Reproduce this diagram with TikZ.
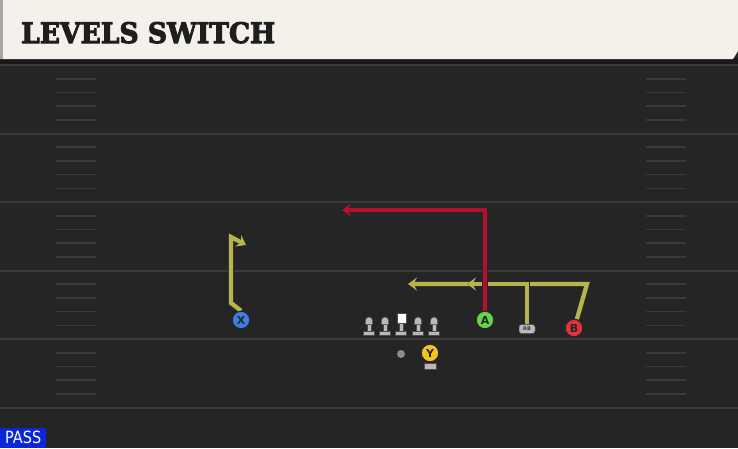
\documentclass[tikz,border=0pt]{standalone}
\usepackage{fontspec}
\setmainfont{DejaVu Serif}
\newfontfamily\titlefont[FakeBold=3.5,BoldFeatures={FakeBold=3.5}]{DejaVu Serif}
\newfontfamily\labelfont{DejaVu Sans}
\usetikzlibrary{arrows.meta}
\definecolor{fieldbg}{HTML}{252525}
\definecolor{yardline}{HTML}{3A3A3A}
\definecolor{cream}{HTML}{F4F1EA}
\definecolor{titleink}{HTML}{1E1E1E}
\definecolor{routered}{HTML}{B3102E}
\definecolor{routeyel}{HTML}{B7B34E}
\definecolor{pgreen}{HTML}{66D448}
\definecolor{pblue}{HTML}{3C7FE2}
\definecolor{pred}{HTML}{E2323E}
\definecolor{pyellow}{HTML}{F2C41E}
\definecolor{lgray}{HTML}{B9B9B9}
\definecolor{passblue}{HTML}{0B26D8}
\begin{document}
\begin{tikzpicture}[x=1pt,y=-1pt,
  hash/.style={draw=yardline,line width=1.6pt},
  yard/.style={draw=yardline,line width=2pt},
  player/.style={circle,minimum size=17.5pt,inner sep=0pt,draw=black!85,line width=1pt,
     font=\labelfont\bfseries\fontsize{11}{11}\selectfont,text=black!85},
  lineman/.style={fill=lgray,draw=black!70,line width=0.5pt},
  route/.style={line width=4.3pt,line join=miter,preaction={draw=black!85,line width=6.2pt}},
  tip/.style={-{Stealth[length=9pt,width=13pt,inset=3.5pt]}}]
\useasboundingbox (0,0) rectangle (738,448);
% field
\fill[fieldbg] (0,0) rectangle (738,448);
% yard lines
\foreach \y in {65,133.5,202,270.5,339,407.5}{
  \draw[yard] (0,\y) -- (738,\y);
}
\foreach \y in {65,133.5,202,270.5,339}{
  \foreach \k in {1,2,3,4}{
    \draw[hash] (56,\y+13.7*\k) -- (96,\y+13.7*\k);
    \draw[hash] (646,\y+13.7*\k) -- (686,\y+13.7*\k);
  }
}
% header
\fill[black!90] (0,58) rectangle (738,64);
\fill[cream] (0,0) -- (738,0) -- (738,51) -- (733,59) -- (0,59) -- cycle;
\fill[black!35] (0,0) rectangle (3,59);
\node[anchor=base west,inner sep=0pt,text=titleink] (title) at (21,43)
  {\resizebox{254pt}{21pt}{\titlefont\bfseries LEVELS SWITCH}};
% linemen
\foreach \x in {369,385,418,434}{
  \fill[lineman] (\x-5.5,331) rectangle (\x+5.5,335.5);
  \fill[lineman] (\x-2,324) rectangle (\x+2,331);
  \fill[lineman] (\x-3.6,324.5) -- (\x-3.6,320.6) arc (180:360:3.6) -- (\x+3.6,324.5) -- cycle;
}
\fill[lineman] (395.5,331) rectangle (406.5,335.5);
\fill[lineman] (399,323) rectangle (403,331);
\node[fill=white,draw=black!70,line width=0.5pt,minimum width=9pt,minimum height=10pt,inner sep=0pt] (C) at (401.5,318.5) {};
% QB
\node[circle,fill=black!45,minimum size=8pt,inner sep=0pt] (QB) at (401,354) {};
% Y
\fill[lineman] (424,363.5) rectangle (436,369);
\node[player,fill=pyellow] (Y) at (430,353) {Y};
% skill players
\node[player,fill=pblue] (X) at (241,320) {X};
\node[player,fill=pgreen] (A) at (485,320) {A};
\node[player,fill=pred] (B) at (574,328) {B};
\node[rounded corners=2.5pt,fill=lgray,draw=black!70,line width=0.5pt,minimum width=16pt,minimum height=9pt,inner sep=0pt,
  font=\labelfont\bfseries\fontsize{5}{5}\selectfont,text=black!80] (RB) at (527,329) {RB};
% route corner coordinates
\coordinate (a1) at (485,210);
\coordinate (a2) at (342,210);
\coordinate (b1) at (587,284);
\coordinate (b2) at (408,284);
\coordinate (r1) at (527,284);
\coordinate (r2) at (467,284);
\coordinate (x1) at (231,303);
\coordinate (x2) at (231,237);
\coordinate (x3) at (246,245);
% routes
\draw[route,draw=routeyel,tip] (B.72) -- (b1) -- (b2);
\draw[route,draw=routeyel,tip] (RB.north) -- (r1) -- (r2);
\draw[route,draw=routered,tip] (A.north) -- (a1) -- (a2);
\draw[route,draw=routeyel,tip] (X.north) -- (x1) -- (x2) -- (x3);
% redraw players on top
\node[player,fill=pgreen] at (A) {A};
\node[player,fill=pred] at (B) {B};
\node[player,fill=pblue] at (X) {X};
% PASS tag
\node[fill=passblue,anchor=south west,minimum width=46pt,minimum height=20pt,inner sep=0pt,text=white] (pass) at (0,448)
  {\resizebox{36pt}{12.5pt}{\labelfont PASS}};
\end{tikzpicture}
\end{document}
